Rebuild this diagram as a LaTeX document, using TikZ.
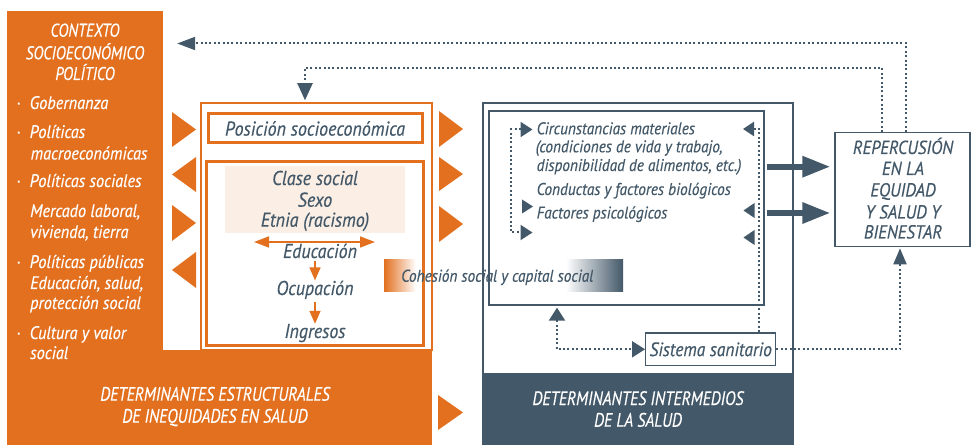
\documentclass[tikz,border=0pt]{standalone}
\usepackage{fontspec}
\setmainfont{PT Sans}[FakeStretch=0.9,FakeBold=0.4]
\newfontfamily\condfont{PT Sans}[FakeStretch=0.82,FakeBold=0.4]
\usetikzlibrary{arrows.meta}
\definecolor{orng}{HTML}{E2701F}
\definecolor{slate}{HTML}{435868}
\definecolor{peach}{HTML}{FBEEE5}
\tikzset{
 wtxt/.style={text=white, font=\itshape\fontsize{18.1bp}{20bp}\selectfont, inner sep=0pt, anchor=base west},
 wcap/.style={text=white, font=\condfont\itshape\fontsize{18.5bp}{21bp}\selectfont, inner sep=0pt, anchor=base},
 wcapb/.style={wcap, font=\condfont\itshape\fontsize{19.4bp}{21bp}\selectfont},
 otxt/.style={text=slate, font=\itshape\fontsize{20bp}{22bp}\selectfont, inner sep=0pt},
 itxt/.style={text=slate, font=\itshape\fontsize{17bp}{19bp}\selectfont, inner sep=0pt, anchor=base west},
 rtxt/.style={text=slate, font=\itshape\fontsize{18.9bp}{20bp}\selectfont, inner sep=0pt, anchor=base},
 obox/.style={draw=orng, line width=3bp, inner sep=0pt},
 sbox/.style={draw=slate, line width=1.3bp, inner sep=0pt},
 panel/.style={fill=orng, inner sep=0pt, minimum width=#1},
 dotline/.style={draw=slate, line width=2bp, dash pattern=on 2bp off 2.4bp},
 dstart/.style={{Triangle[length=11bp,width=14bp]}-},
 dboth/.style={{Triangle[length=12bp,width=15bp]}-{Triangle[length=12bp,width=15bp]}},
 oarr/.style={draw=orng, line width=1.5bp, -{Triangle[length=13bp,width=11bp]}},
 odbl/.style={draw=orng, line width=1.5bp, {Triangle[length=15bp,width=11bp]}-{Triangle[length=15bp,width=11bp]}},
 thickarr/.style={draw=slate, line width=6bp, -{Triangle[length=28bp,width=20bp]}},
 otri/.style={fill=orng},
 stri/.style={fill=slate}
}
\begin{document}
\begin{tikzpicture}[x=1bp,y=-1bp]
\useasboundingbox (0,0) rectangle (973,445);
% ---------- left orange context panel (L shape)
\node[panel=156bp, minimum height=434bp] (ctx) at (85,228) {};
\node[panel=425bp, minimum height=95bp] (strip) at (219.5,397.5) {};
\node[wcap] (h1) at (85,36.7) {CONTEXTO};
\node[wcap] (h2) at (85,59.3) {SOCIOECONÓMICO};
\node[wcap] (h3) at (85,80) {POLÍTICO};
\foreach \y in {109,138,187,268,339}{
  \node[wtxt] at (16,\y) {·};
}
\node[wtxt] (l1) at (29.5,109) {Gobernanza};
\node[wtxt] (l2) at (29.5,138) {Políticas};
\node[wtxt] (l3) at (30.5,159.5) {macroeconómicas};
\node[wtxt] (l4) at (29.5,187) {Políticas sociales};
\node[wtxt] (l5) at (30,217) {Mercado laboral,};
\node[wtxt] (l6) at (30,238) {vivienda, tierra};
\node[wtxt] (l7) at (29.5,268) {Políticas públicas};
\node[wtxt] (l8) at (30,289) {Educación, salud,};
\node[wtxt] (l9) at (30,309) {protección social};
\node[wtxt] (l10) at (29.5,339) {Cultura y valor};
\node[wtxt] (l11) at (30,359) {social};
\node[wcapb] (b1) at (215,400.7) {DETERMINANTES ESTRUCTURALES};
\node[wcapb] (b2) at (215,422.7) {DE INEQUIDADES EN SALUD};
% ---------- structural determinants
\node[draw=orng, line width=1.5bp, minimum width=231bp, minimum height=247bp, inner sep=0pt] (struct) at (316.5,226.5) {};
\node[obox, minimum width=214bp, minimum height=29bp, otxt] (pos) at (315,128.5) {Posición socioeconómica};
\node[obox, minimum width=217bp, minimum height=184bp] (cls) at (315,253.3) {};
\node[fill=peach, minimum width=180bp, minimum height=67bp, inner sep=0pt] (peachbox) at (315,199.5) {};
\node[otxt, anchor=base] (c1) at (315,185) {Clase social};
\node[otxt, anchor=base] (c2) at (315,206.7) {Sexo};
\node[otxt, anchor=base] (c3) at (315,226.7) {Etnia (racismo)};
\coordinate (da1) at (254,242);
\coordinate (da2) at (375,242);
\draw[odbl] (da1) -- (da2);
\node[otxt, anchor=base] (edu) at (320,258) {Educación};
\node[otxt, anchor=base] (ocu) at (315,295) {Ocupación};
\node[otxt, anchor=base] (ing) at (315,338) {Ingresos};
\draw[oarr, shorten <=3bp] (edu.south -| ocu) -- (ocu.north);
\draw[oarr, shorten <=3bp] (ocu.south) -- (ing.north);
% orange triangles
\fill[otri] (172,112) -- (196,129.5) -- (172,147) -- cycle;
\fill[otri] (196,157) -- (172,174.5) -- (196,192) -- cycle;
\fill[otri] (172,205) -- (196,223) -- (172,241) -- cycle;
\fill[otri] (196,252) -- (172,270) -- (196,288) -- cycle;
\fill[otri] (439,111) -- (463,129) -- (439,147) -- cycle;
\fill[otri] (439,157) -- (463,174) -- (439,191) -- cycle;
\fill[otri] (439,206) -- (463,224) -- (439,242) -- cycle;
\fill[otri] (438,395) -- (463,412.5) -- (438,430) -- cycle;
% ---------- intermediate determinants
\node[draw=slate, line width=1.3bp, minimum width=310bp, minimum height=271bp, inner sep=0pt] (inter) at (638,238.5) {};
\node[fill=slate, minimum width=311.3bp, minimum height=71bp, inner sep=0pt] (slab) at (638,409.5) {};
\node[sbox, minimum width=275bp, minimum height=194bp] (inner) at (626.5,208) {};
\node[wcapb] (d1) at (638,405) {DETERMINANTES INTERMEDIOS};
\node[wcapb] (d2) at (638,426.7) {DE LA SALUD};
\node[itxt] (t1) at (536.5,134.3) {Circunstancias materiales};
\node[itxt] (t2) at (535.5,152.3) {(condiciones de vida y trabajo,};
\node[itxt] (t3) at (536.5,171) {disponibilidad de alimentos, etc.)};
\node[itxt] (t4) at (536.5,195) {Conductas y factores biológicos};
\node[itxt] (t5) at (536.5,218.5) {Factores psicológicos};
% cohesion bar
\shade[left color=orng, right color=white] (384,260) rectangle (416,292);
\shade[left color=white, right color=slate] (566,260) rectangle (623,292);
\node[itxt] (coh) at (401,281.7) {Cohesión social y capital social};
% sistema sanitario
\node[sbox, minimum width=130bp, minimum height=32.7bp, text=slate, font=\itshape\fontsize{19.4bp}{21bp}\selectfont] (sis) at (710.7,349.3) {Sistema sanitario};
% repercusion box
\node[sbox, minimum width=135bp, minimum height=114bp] (rep) at (902.5,189.7) {};
\node[rtxt] (r1) at (903,154) {REPERCUSIÓN};
\node[rtxt] (r2) at (903,175) {EN LA};
\node[rtxt] (r3) at (903,196.5) {EQUIDAD};
\node[rtxt] (r4) at (903,218.5) {Y SALUD Y};
\node[rtxt] (r5) at (903,238.5) {BIENESTAR};
% dotted brackets
\coordinate (lb1) at (532.5,129.5);
\coordinate (lb2) at (532.5,232.5);
\draw[dotline, dboth] (lb1) -- (511,129.5) -- (511,232.5) -- (lb2);
\fill[stri] (522,199.5) -- (533,206.5) -- (522,213.5) -- cycle;
\coordinate (rb1) at (743,129);
\draw[dotline, dstart] (rb1) -| ([xshift=48.3bp]sis.north);
\fill[stri] (754.5,203) -- (743.5,210.5) -- (754.5,218) -- cycle;
\fill[stri] (754.5,230) -- (743.5,237.5) -- (754.5,245) -- cycle;
% sistema sanitario links
\draw[dotline, {Triangle[length=13bp,width=16bp]}-{Triangle[length=13bp,width=16bp]}, shorten <=2bp] ([xshift=-69.5bp]inner.south) |- (sis.west);
\draw[dotline, -{Triangle[length=16bp,width=13bp]}, shorten >=1bp] (sis.east) -| ([xshift=-2.5bp]rep.south);
% thick arrows
\coordinate (ta1) at (766.7,166.7);
\coordinate (ta2) at (766.7,213);
\draw[thickarr, shorten >=4bp] (ta1) -- (ta1 -| rep.west);
\draw[thickarr, shorten >=4bp] (ta2) -- (ta2 -| rep.west);
% top feedback arrows
\draw[dotline, -{Triangle[length=18bp,width=13bp]}, shorten >=14bp] ([xshift=3.5bp]rep.north) -- ([xshift=3.5bp]rep.north |- 0,43.5) -- (ctx.east |- 0,43.5);
\draw[dotline, -{Triangle[length=17bp,width=15bp]}, shorten >=2bp] ([xshift=-20.5bp]rep.north) -- ([xshift=-20.5bp]rep.north |- 0,68) -| ([xshift=-11.5bp]struct.north);
\end{tikzpicture}
\end{document}
